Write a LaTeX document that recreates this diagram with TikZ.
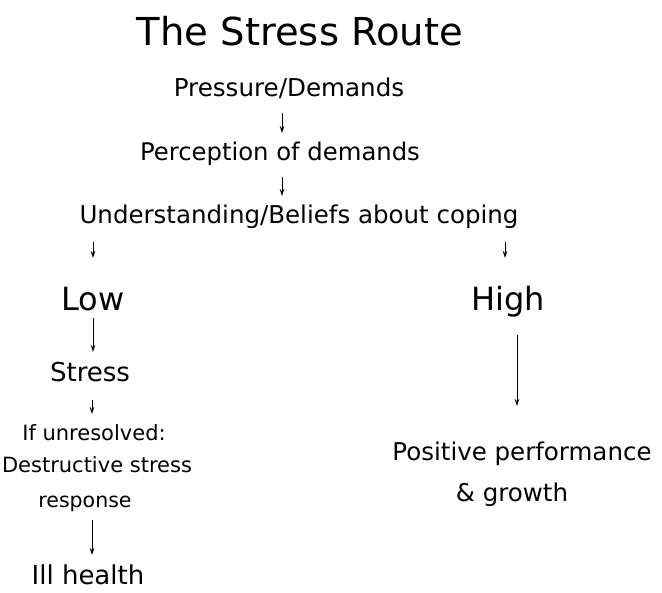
\documentclass[tikz,border=0pt]{standalone}
\usepackage{fontspec}
\setmainfont{DejaVu Sans}
\usetikzlibrary{arrows.meta}

\begin{document}
\begin{tikzpicture}[x=1pt,y=-1pt,
  lbl/.style={inner sep=0pt, anchor=base, text height=0.75em, text depth=0.25em},
  arr/.style={line width=0.8pt, -{Stealth[length=7pt,width=4.5pt]}}]
\useasboundingbox (0,0) rectangle (662,593);

% Text Node
\node (title) [lbl, font=\fontsize{38.5}{44}\selectfont] at (300,46) {The Stress Route};
% Text Node
\node (press) [lbl, font=\fontsize{24.6}{28}\selectfont] at (289,97) {Pressure/Demands};
% Text Node
\node (percep) [lbl, font=\fontsize{24.3}{28}\selectfont] at (280,161) {Perception of demands};
% Text Node
\node (under) [lbl, font=\fontsize{24.5}{28}\selectfont] at (299,224) {Understanding/Beliefs about coping};
% Text Node
\node (low) [lbl, font=\fontsize{32}{36}\selectfont] at (93,311) {Low};
% Text Node
\node (high) [lbl, font=\fontsize{32}{36}\selectfont] at (508,311) {High};
% Text Node
\node (stress) [lbl, font=\fontsize{26}{30}\selectfont] at (90,382) {Stress};
% Text Node
\node (unres) [lbl, font=\fontsize{21}{24}\selectfont] at (94,441) {If unresolved:};
% Text Node
\node (destr) [lbl, font=\fontsize{21}{24}\selectfont] at (97,473) {Destructive stress};
% Text Node
\node (resp) [lbl, font=\fontsize{20.5}{24}\selectfont] at (85,508) {response};
% Text Node
\node (ill) [lbl, font=\fontsize{26}{30}\selectfont] at (88,585) {Ill health};
% Text Node
\node (pos) [lbl, font=\fontsize{24.5}{30}\selectfont] at (522,461) {Positive performance};
% Text Node
\node (grow) [lbl, font=\fontsize{24.5}{30}\selectfont] at (512,502) {\& growth};

%Straight Lines
\draw [arr] ([xshift=-7pt]press.south |- 0,113) -- ([xshift=-7pt]press.south |- 0,133);
%Straight Lines
\draw [arr] ([xshift=2pt]percep.south |- 0,177) -- ([xshift=2pt]percep.south |- 0,196);
%Straight Lines
\draw [arr] (low.north |- 0,242) -- (low.north |- 0,258);
%Straight Lines
\draw [arr] ([xshift=-3pt]high.north |- 0,242) -- ([xshift=-3pt]high.north |- 0,258);
%Straight Lines
\draw [arr] (low.south |- 0,318) -- (low.south |- 0,352);
%Straight Lines
\draw [arr] ([xshift=9pt]high.south |- 0,335) -- ([xshift=9pt]high.south |- 0,406);
%Straight Lines
\draw [arr] ([xshift=2pt]stress.south |- 0,400) -- ([xshift=2pt]stress.south |- 0,414);
%Straight Lines
\draw [arr] ([xshift=4pt]ill.north |- 0,520) -- ([xshift=4pt]ill.north |- 0,555);

\end{tikzpicture}
\end{document}
